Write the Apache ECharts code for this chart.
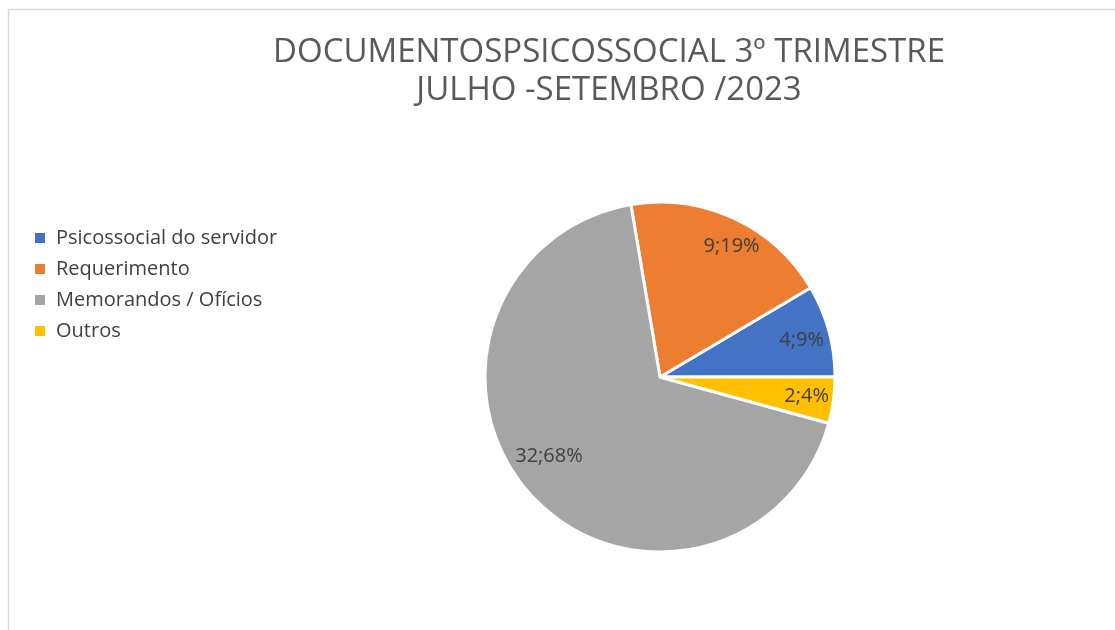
<!DOCTYPE html>
<html><head><meta charset="utf-8">
<script src="https://cdn.jsdelivr.net/npm/echarts@6/dist/echarts.min.js"></script>
<style>html,body{margin:0;padding:0;background:#fff}#c{width:1115px;height:630px}</style>
</head><body><div id="c"></div>
<script>
const titleLines = ['DOCUMENTOSPSICOSSOCIAL 3º TRIMESTRE', 'JULHO -SETEMBRO /2023'];
const categories = ['Psicossocial do servidor', 'Requerimento', 'Memorandos / Ofícios', 'Outros'];
const values = [4, 9, 32, 2];
const colors = ['#4472C4', '#ED7D31', '#A5A5A5', '#FFC000'];

const FONT = 'Open Sans';
const labelNudge = [[-4, 3], [8, 6], [1, -22], [-3, -1]];
const data = categories.map((n, i) => ({ name: n, value: values[i], itemStyle: { color: colors[i] } }));
const labelData = categories.map((n, i) => ({ name: n, value: values[i] }));

const chart = echarts.init(document.getElementById('c'));
chart.setOption({
  backgroundColor: '#fff',
  animation: false,
  graphic: [{ type: 'rect', shape: { x: 8.5, y: 9.5, width: 1200, height: 700 }, style: { fill: 'none', stroke: '#d9d9d9', lineWidth: 1.5 }, silent: true }],
  title: {
    text: titleLines.join('\n'), left: 604, top: 29, textAlign: 'center',
    textStyle: { fontFamily: FONT, fontSize: 33, fontWeight: 'normal', color: '#595959', lineHeight: 38 }
  },
  legend: {
    orient: 'vertical', left: 28, top: 223, itemWidth: 12, itemHeight: 12, itemGap: 11,
    icon: 'rect', data: categories,
    textStyle: { fontFamily: FONT, fontSize: 20, color: '#404040', padding: [0, 0, 0, 5] }
  },
  series: [{
    type: 'pie', center: [660, 377], radius: [0, 175], startAngle: 0, clockwise: false,
    percentPrecision: 0, label: { show: false }, labelLine: { show: false },
    itemStyle: { borderColor: '#fff', borderWidth: 3 }, data: data, silent: true
  }, {
    type: 'pie', center: [660, 377], radius: [114, 182], startAngle: 0, clockwise: false,
    percentPrecision: 0, silent: true, legendHoverLink: false,
    itemStyle: { color: 'rgba(0,0,0,0)' },
    label: { show: true, position: 'inside', formatter: '{c};{d}%', fontFamily: FONT, fontSize: 20, color: '#404040' },
    labelLayout: function (p) { const d = labelNudge[p.dataIndex]; return { dx: d[0], dy: d[1] }; },
    data: labelData
  }]
});
</script></body></html>
